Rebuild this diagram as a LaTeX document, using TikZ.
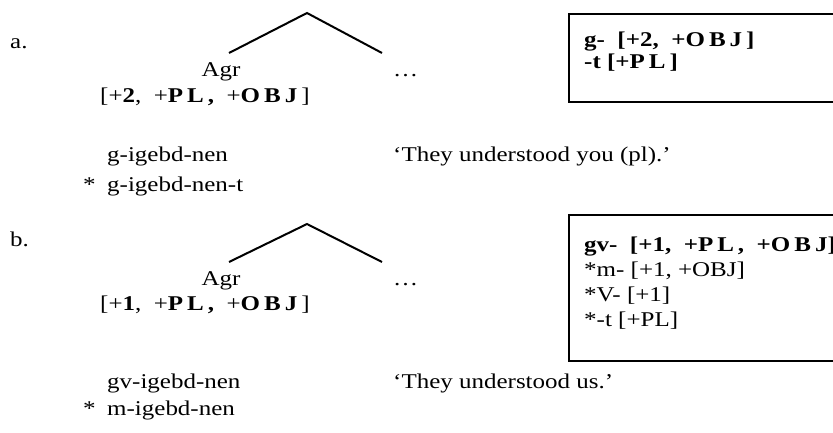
\documentclass[tikz,border=0pt]{standalone}
\usepackage{fontspec}
\setmainfont[FakeStretch=1.19]{Liberation Serif}
\newcommand{\lsp}{\kern4pt}
\begin{document}
\begin{tikzpicture}[x=1pt,y=-1pt,
  txt/.style={anchor=base west,inner sep=0pt,font=\fontsize{21}{25}\selectfont},
  treeline/.style={line width=2pt,line join=miter},
  featbox/.style={draw,line width=1.8pt,anchor=north west,inner sep=0pt}]
\useasboundingbox (0,0) rectangle (833,433);
\clip (0,0) rectangle (833,433);
% ---------- a ----------
\node[txt] (la) at (10,49) {a.};
\coordinate (apexa) at (307,13);
\coordinate (lefta) at (229,53);
\coordinate (righta) at (382,53);
\draw[treeline] (lefta) -- (apexa) -- (righta);
\node[txt,anchor=base] (agra) at (221,77) {Agr};
\node[txt] (dotsa) at (393,77) {\textellipsis};
\node[txt] (feata) at (100,103) {[+\textbf{2},\ \ +\textbf{P\lsp L\lsp,}\ \ +\textbf{O\lsp B\lsp J}\lsp]};
\node[featbox,minimum width=290pt,minimum height=88pt] (boxa) at (568,13) {};
\node[txt] (boxa1) at (584,47) {\textbf{g-\ \ [+2,\ \ +O\lsp B\lsp J\lsp]}};
\node[txt] (boxa2) at (584,69) {\textbf{-t [+P\lsp L\lsp]}};
\node[txt] (exa1) at (107,162) {g-igebd-nen};
\node[txt] (stara) at (83,191) {*};
\node[txt] (exa2) at (107,191) {g-igebd-nen-t};
\node[txt] (transa) at (393,162) {‘They understood you (pl).’};
% ---------- b ----------
\node[txt] (lb) at (10,246) {b.};
\coordinate (apexb) at (307,224);
\coordinate (leftb) at (229,262);
\coordinate (rightb) at (382,262);
\draw[treeline] (leftb) -- (apexb) -- (rightb);
\node[txt,anchor=base] (agrb) at (221,285) {Agr};
\node[txt] (dotsb) at (393,285) {\textellipsis};
\node[txt] (featb) at (100,310) {[+\textbf{1},\ \ +\textbf{P\lsp L\lsp,}\ \ +\textbf{O\lsp B\lsp J}\lsp]};
\node[featbox,minimum width=290pt,minimum height=146pt] (boxb) at (568,214) {};
\node[txt] (boxb1) at (584,251) {\textbf{gv-\ \ [+1,\ \ +P\lsp L\lsp,\ \ +O\lsp B\lsp J]}};
\node[txt] (boxb2) at (584,276) {*m- [+1, +OBJ]};
\node[txt] (boxb3) at (584,301) {*V- [+1]};
\node[txt] (boxb4) at (584,326) {*-t [+PL]};
\node[txt] (exb1) at (107,388) {gv-igebd-nen};
\node[txt] (starb) at (83,415) {*};
\node[txt] (exb2) at (107,415) {m-igebd-nen};
\node[txt] (transb) at (393,388) {‘They understood us.’};
\end{tikzpicture}
\end{document}
